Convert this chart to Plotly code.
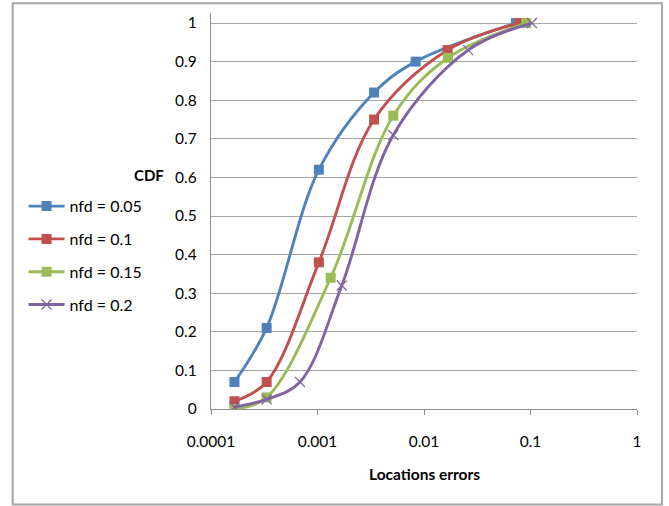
import plotly.graph_objects as go

# Data
series_names = ["nfd = 0.05", "nfd = 0.1", "nfd = 0.15", "nfd = 0.2"]
x_005 = [0.000166, 0.000333, 0.00103, 0.0034, 0.00835, 0.073]
y_005 = [0.07, 0.21, 0.62, 0.82, 0.90, 1.0]
x_010 = [0.000166, 0.000333, 0.00103, 0.0034, 0.0167, 0.0785]
y_010 = [0.02, 0.07, 0.38, 0.75, 0.93, 1.0]
x_015 = [0.000166, 0.000333, 0.00133, 0.00515, 0.0168, 0.091]
y_015 = [0.0, 0.03, 0.34, 0.76, 0.91, 1.0]
x_020 = [0.000166, 0.000333, 0.000685, 0.00169, 0.00515, 0.026, 0.103]
y_020 = [0.005, 0.025, 0.07, 0.32, 0.71, 0.93, 1.0]
y_ticks = [0, 0.1, 0.2, 0.3, 0.4, 0.5, 0.6, 0.7, 0.8, 0.9, 1]
y_tick_text = ["0", "0.1", "0.2", "0.3", "0.4", "0.5", "0.6", "0.7", "0.8", "0.9", "1"]
x_ticks = [0.0001, 0.001, 0.01, 0.1, 1]
x_tick_text = ["0.0001", "0.001", "0.01", "0.1", "1"]

colors = ["#4F81BD", "#C0504D", "#9BBB59", "#8064A2"]
symbols = ["square", "square", "square", "x-thin"]
xs = [x_005, x_010, x_015, x_020]
ys = [y_005, y_010, y_015, y_020]

FONT = "Lato"
fig = go.Figure()
for i in range(4):
    marker = dict(symbol=symbols[i], size=10, color=colors[i])
    if symbols[i] == "x-thin":
        marker = dict(symbol="x-thin", size=10, color=colors[i],
                      line=dict(color=colors[i], width=1.2))
    fig.add_trace(go.Scatter(
        x=xs[i], y=ys[i], name=series_names[i], mode="lines+markers",
        line=dict(color=colors[i], width=2.9, shape="spline", smoothing=1.0),
        marker=marker, legendgroup=f"g{i}",
    ))

fig.update_layout(
    width=669, height=506,
    margin=dict(l=211, r=32, t=13, b=97),
    paper_bgcolor="white", plot_bgcolor="white",
    font=dict(family=FONT, size=15.5, color="#000000"),
    showlegend=True,
    legend=dict(x=-0.44, y=0.555, xanchor="left", yanchor="top",
                font=dict(family=FONT, size=16, color="#000000"),
                tracegroupgap=9, itemwidth=36, bgcolor="rgba(0,0,0,0)"),
    xaxis=dict(type="log", range=[-4, 0], tickvals=x_ticks, ticktext=x_tick_text,
               showgrid=False, showline=True, linecolor="#8c8c8c", linewidth=1.3,
               ticks="outside", ticklen=5, tickcolor="#8c8c8c", tickwidth=1.3,
               ticklabelstandoff=13, zeroline=False,
               tickfont=dict(family=FONT, size=15.5)),
    yaxis=dict(range=[0, 1.026], tickvals=y_ticks, ticktext=y_tick_text,
               showgrid=True, gridcolor="#a6a6a6", gridwidth=1.3,
               showline=True, linecolor="#8c8c8c", linewidth=1.3,
               ticks="", ticklabelstandoff=10, zeroline=False,
               tickfont=dict(family=FONT, size=15.5)),
    annotations=[
        dict(text="<b>CDF</b>", xref="paper", yref="paper", x=-0.1056, y=0.59,
             xanchor="right", yanchor="middle",
             showarrow=False, font=dict(family=FONT, size=15)),
        dict(text="<b>Locations errors</b>", xref="paper", yref="paper", x=0.5, y=-0.163,
             xanchor="center", yanchor="middle",
             showarrow=False, font=dict(family=FONT, size=15.5)),
    ],
    shapes=[
        dict(type="rect", xref="paper", yref="paper", x0=-0.4655, x1=1.0587,
             y0=-0.241, y1=1.0245, line=dict(color="#a6a6a6", width=2)),
    ],
)

fig.write_html("out.html")
